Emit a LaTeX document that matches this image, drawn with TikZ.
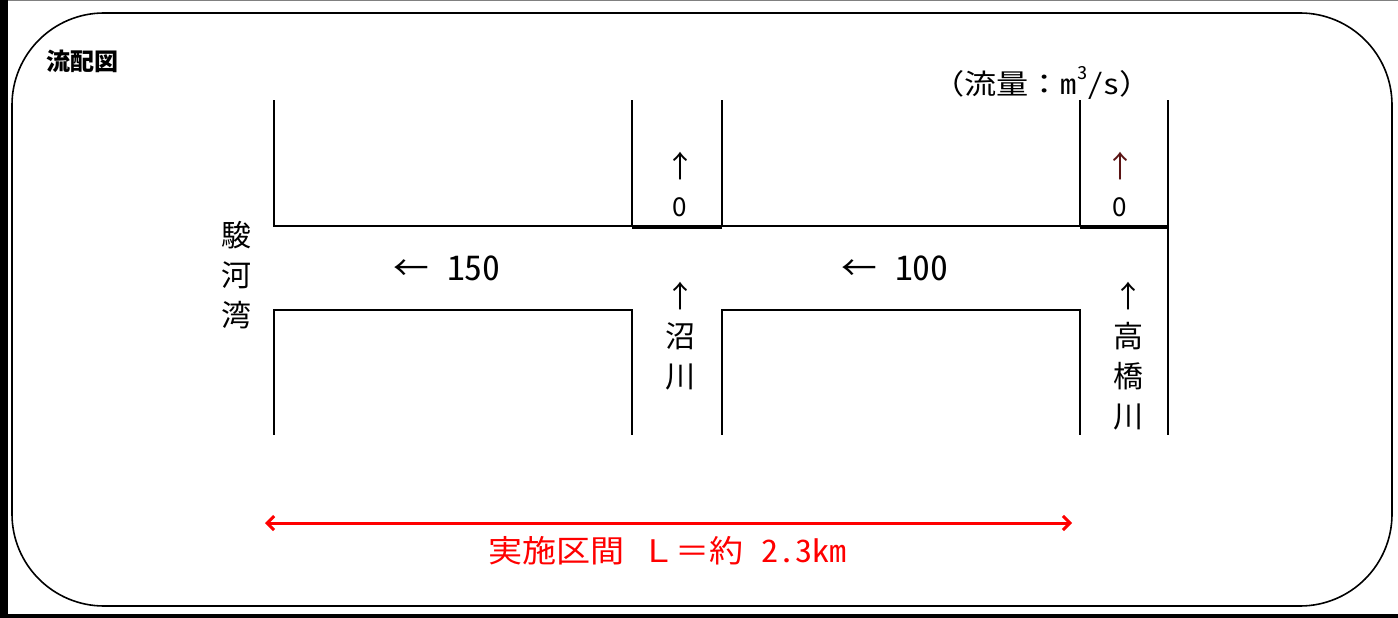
\documentclass[tikz,border=0pt]{standalone}
\usepackage{fontspec}
\setmainfont{Noto Sans CJK JP}
\usetikzlibrary{arrows.meta}
\definecolor{maroon}{RGB}{90,20,20}
\newcommand{\halfw}[1]{{\addfontfeatures{RawFeature=+hwid}#1}}
\tikzset{
  bank/.style={line width=2pt, line cap=rect},
  thickbank/.style={line width=3pt},
  lbl/.style={inner sep=0pt, font=\fontsize{34}{40}\selectfont},
  arr/.style={inner sep=0pt, font=\fontsize{30}{36}\selectfont},
  small/.style={inner sep=0pt, font=\fontsize{26}{30}\selectfont},
  vert/.style={inner sep=0pt, align=center, font=\fontsize{30}{40}\selectfont},
}
\begin{document}
\begin{tikzpicture}[x=1pt,y=-1pt]
\useasboundingbox (0,0) rectangle (1398,618);
% frame
\fill[white] (0,0) rectangle (1398,618);
\draw[gray, line width=1pt] (0,0.5) -- (1398,0.5);
\fill[black] (0,0) rectangle (8,618);
\fill[black] (0,614) rectangle (1398,618);
\draw[line width=1.6pt, rounded corners=92pt] (12,13) rectangle (1392,606);
% title
\node[anchor=west, inner sep=0pt, font=\fontsize{24}{28}\selectfont\bfseries] (title) at (46,61) {流配図};
\node[anchor=east, inner sep=0pt, font=\fontsize{28}{32}\selectfont] (unit) at (1152,83) {\scalebox{1.15}[1]{（流量：\halfw{m\raisebox{0.55em}{\fontsize{18}{20}\selectfont 3}/s}）}};
% banks upper
\draw[bank] (274,101) -- (274,226) -- (1168,226);
\draw[bank] (632,101) -- (632,226);
\draw[bank] (722,101) -- (722,226);
\draw[bank] (1080,101) -- (1080,226);
\draw[bank] (1168,101) -- (1168,434);
\draw[thickbank] (632,227) -- (722,227);
\draw[thickbank] (1080,227) -- (1168,227);
% banks lower
\draw[bank] (274,434) -- (274,310) -- (632,310) -- (632,434);
\draw[bank] (722,434) -- (722,310) -- (1080,310) -- (1080,434);
% labels
\node[vert] (suruga) at (236,275) {駿\\河\\湾};
\node[lbl] (q150) at (447,268) {\scalebox{1.05}[1]{←\halfw{\ 150}}};
\node[lbl] (q100) at (895,268) {\scalebox{1.05}[1]{←\halfw{\ 100}}};
\node[arr] (a1) at (680,166) {↑};
\node[small] (z1) at (680,207) {0};
\node[arr, text=maroon] (a2) at (1120,166) {↑};
\node[small] (z2) at (1120,207) {0};
\node[vert] (numa) at (680,336) {↑\\沼\\川};
\node[vert] (taka) at (1128,356) {↑\\高\\橋\\川};
% section arrow
\coordinate (sL) at (265,523);
\coordinate (sR) at (1072,523);
\draw[red, line width=3pt, {Straight Barb[length=7pt,width=14pt]}-{Straight Barb[length=7pt,width=14pt]}] (sL) -- (sR);
\node[anchor=west, inner sep=0pt, text=red, font=\fontsize{31}{34}\selectfont] (sect) at (488,551) {\scalebox{1.1}[1]{実施区間\halfw{\ }Ｌ＝約\halfw{\ 2.3km}}};
\end{tikzpicture}
\end{document}
